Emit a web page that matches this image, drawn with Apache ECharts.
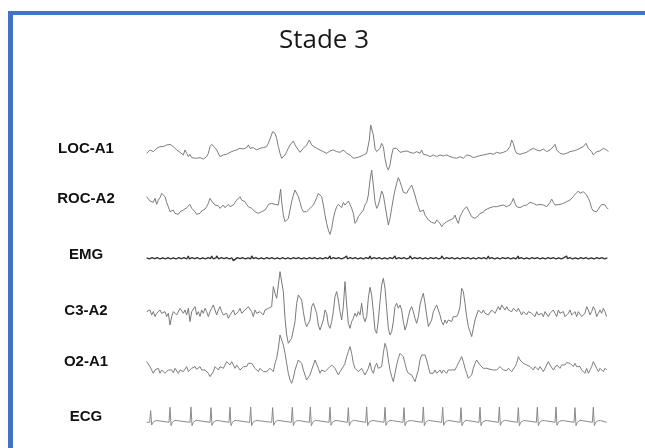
<!DOCTYPE html>
<html>
<head>
<meta charset="utf-8">
<script src="https://cdn.jsdelivr.net/npm/echarts@6/dist/echarts.min.js"></script>
<style>
html,body{margin:0;padding:0;background:#fff;}
#chart{width:645px;height:448px;}
</style>
</head>
<body>
<div id="chart"></div>
<script>
// ---- DATA (time in sample units, amplitude in µV-like units) ----
const titleText = "Stade 3";
const channelNames = ["LOC-A1", "ROC-A2", "EMG", "C3-A2", "O2-A1", "ECG"];

const locA1 = [[50,0],[60,10],[70,5],[80,15],[90,20],[100,20],[110,25],[120,27],[125,30],[130,20],[140,10],[150,3],[160,-5],[165,10],[170,0],[175,-10],[180,-3],[185,-13],[190,-7],[200,-15],[210,-13],[220,-17],[230,-10],[235,0],[240,20],[245,27],[250,25],[255,17],[260,10],[270,-10],[275,-15],[280,-5],[290,-3],[300,3],[310,7],[320,10],[330,15],[340,13],[350,17],[355,25],[360,15],[370,17],[380,10],[390,15],[400,17],[410,20],[415,30],[420,33],[428,65],[435,60],[440,45],[445,20],[450,0],[455,-15],[460,-17],[465,-5],[470,5],[475,15],[480,25],[485,30],[490,37],[495,25],[500,20],[505,10],[510,3],[520,15],[530,25],[538,40],[545,25],[550,20],[560,15],[570,10],[580,5],[590,0],[600,7],[610,10],[615,15],[620,5],[630,3],[640,10],[645,15],[650,0],[660,-5],[670,-15],[675,-20],[680,-13],[690,-10],[700,-5],[710,0],[718,40],[722,85],[730,55],[735,15],[740,5],[745,5],[750,15],[755,30],[760,20],[765,-15],[770,-40],[775,-50],[780,-35],[785,-5],[790,15],[795,20],[800,15],[810,3],[820,5],[830,7],[840,3],[850,0],[860,5],[870,0],[875,10],[880,-3],[890,-5],[900,-10],[910,-5],[920,-10],[930,-5],[940,-8],[950,-5],[960,-10],[970,-13],[980,-15],[990,-10],[1000,-15],[1010,-5],[1015,0],[1020,-7],[1030,-13],[1040,-10],[1050,-7],[1060,-5],[1070,-3],[1080,0],[1090,-3],[1100,3],[1105,5],[1110,0],[1120,3],[1130,7],[1140,20],[1145,40],[1150,30],[1155,10],[1160,0],[1170,-3],[1180,0],[1190,3],[1200,10],[1210,15],[1220,10],[1230,7],[1240,13],[1250,5],[1260,10],[1270,20],[1275,27],[1280,10],[1290,0],[1300,-3],[1310,0],[1320,5],[1330,7],[1340,10],[1350,15],[1360,20],[1368,30],[1375,15],[1380,20],[1385,5],[1390,-5],[1395,-3],[1400,5],[1410,7],[1420,15],[1430,10],[1435,5]];

const rocA2 = [[50,30],[55,25],[60,17],[65,20],[70,13],[75,25],[80,7],[85,20],[90,27],[95,40],[100,45],[105,30],[110,13],[115,0],[120,-15],[125,-17],[130,-10],[135,-20],[140,-15],[145,-23],[150,-15],[155,-13],[160,-10],[165,-7],[170,-3],[175,3],[180,7],[185,-5],[190,-10],[195,-15],[200,-23],[205,-25],[210,-20],[215,-13],[220,-15],[225,-7],[230,0],[235,10],[240,25],[245,17],[250,13],[255,5],[260,10],[265,3],[270,-5],[275,0],[280,5],[285,-3],[290,3],[295,7],[300,0],[305,-5],[310,5],[315,13],[320,20],[325,25],[330,30],[335,20],[340,17],[345,15],[350,7],[355,0],[360,3],[365,-5],[370,-10],[375,-15],[380,-13],[385,-20],[390,-23],[395,-15],[400,-20],[405,-10],[410,-3],[415,7],[420,13],[425,10],[430,13],[435,7],[440,10],[445,5],[452,53],[455,15],[460,-25],[465,-45],[470,-50],[475,-35],[480,-10],[485,15],[490,35],[495,50],[500,45],[505,30],[510,13],[515,-5],[520,-15],[525,-20],[530,-15],[535,-10],[540,-5],[545,0],[550,5],[555,15],[560,27],[565,40],[570,43],[575,30],[580,5],[585,-25],[590,-50],[595,-70],[600,-83],[605,-65],[610,-35],[615,-15],[620,0],[625,7],[630,3],[635,-3],[640,13],[645,5],[650,0],[655,17],[660,7],[665,-5],[670,-20],[675,-50],[680,-43],[685,-30],[690,-23],[695,-17],[700,-10],[705,5],[710,13],[715,35],[720,80],[725,110],[730,65],[735,15],[740,-5],[745,5],[750,25],[755,47],[760,35],[765,5],[770,-25],[775,-55],[780,-35],[785,-5],[790,25],[795,50],[800,70],[805,87],[810,75],[815,60],[820,43],[825,47],[830,40],[835,50],[840,55],[845,65],[850,50],[855,35],[860,15],[865,0],[870,-15],[875,-20],[880,-10],[885,-25],[890,-30],[895,-40],[900,-43],[905,-47],[910,-43],[915,-50],[920,-40],[925,-45],[930,-50],[935,-60],[940,-53],[945,-50],[950,-45],[955,-43],[960,-40],[965,-45],[970,-35],[975,-25],[980,-40],[985,-50],[990,-30],[995,-20],[1000,-10],[1005,-5],[1010,0],[1015,-10],[1020,-20],[1025,-30],[1030,-25],[1035,-35],[1040,-30],[1045,-27],[1050,-20],[1055,-15],[1060,-17],[1065,-10],[1070,-7],[1080,-3],[1090,0],[1100,0],[1110,3],[1120,5],[1130,0],[1140,5],[1145,13],[1150,25],[1155,10],[1160,0],[1170,-3],[1180,3],[1190,5],[1200,13],[1205,17],[1210,10],[1220,5],[1225,3],[1230,7],[1240,5],[1250,0],[1260,13],[1265,23],[1270,13],[1275,5],[1280,3],[1290,7],[1300,10],[1310,15],[1320,20],[1325,25],[1330,30],[1335,37],[1340,43],[1345,47],[1350,40],[1355,35],[1360,45],[1365,47],[1370,35],[1375,25],[1380,13],[1385,-5],[1390,-13],[1395,-10],[1400,-15],[1405,-10],[1410,0],[1415,7],[1420,3],[1425,5],[1430,-3],[1435,-7]];

const emg = [[50,1],[58,-2],[66,2],[74,-1],[82,2],[90,-2],[98,1],[106,-2],[114,2],[120,7],[122,-2],[130,1],[138,-2],[146,2],[154,-1],[162,2],[170,-2],[175,7],[178,-2],[186,2],[194,-1],[202,2],[210,-2],[218,1],[226,-2],[234,2],[242,-1],[245,7],[250,-2],[258,1],[260,7],[266,-2],[274,2],[282,-1],[290,2],[298,-2],[306,1],[310,-7],[314,-2],[322,2],[330,-1],[338,2],[346,-2],[354,1],[362,-2],[365,7],[370,-1],[378,2],[386,-2],[394,1],[402,-2],[410,2],[418,-1],[426,2],[430,8],[434,-2],[442,1],[450,-2],[458,2],[460,7],[466,-2],[474,1],[482,-2],[490,2],[498,-1],[506,2],[514,-2],[522,1],[530,-2],[538,2],[546,-1],[554,2],[562,-2],[570,1],[578,-2],[586,2],[594,-1],[600,7],[602,-2],[610,2],[618,-1],[626,2],[634,-2],[642,1],[650,7],[652,-2],[660,2],[668,-1],[676,2],[684,-2],[692,1],[700,-2],[708,2],[716,-1],[720,7],[724,-2],[732,2],[740,-1],[748,2],[756,-2],[764,1],[772,-2],[780,2],[788,-1],[795,7],[798,-2],[806,2],[814,-1],[822,2],[830,-2],[838,1],[840,7],[846,-2],[854,2],[862,-1],[870,2],[878,-2],[886,1],[894,-2],[902,2],[910,-1],[918,2],[926,-2],[934,1],[935,7],[942,-2],[950,2],[958,-1],[966,2],[974,-2],[982,1],[990,-2],[998,2],[1006,-1],[1014,2],[1020,7],[1022,-2],[1030,1],[1038,-2],[1046,2],[1054,-1],[1062,2],[1070,-2],[1075,7],[1078,-1],[1086,2],[1094,-2],[1102,1],[1110,-2],[1118,2],[1126,-1],[1134,2],[1142,-2],[1150,1],[1158,-2],[1165,7],[1166,-1],[1174,2],[1182,-2],[1190,1],[1198,-2],[1206,2],[1214,-1],[1222,2],[1230,-2],[1238,1],[1246,-2],[1254,2],[1262,-1],[1270,2],[1278,-2],[1286,1],[1294,-2],[1302,2],[1310,7],[1312,-1],[1320,2],[1328,-2],[1336,1],[1344,-2],[1352,2],[1360,-1],[1368,2],[1376,-2],[1384,1],[1392,-2],[1400,2],[1408,-1],[1416,2],[1424,-2],[1432,1]];

const c3A2 = [[50,5],[55,0],[60,10],[65,-5],[70,5],[75,-10],[80,0],[85,5],[90,10],[95,0],[100,-5],[105,5],[110,-10],[115,0],[120,-35],[125,-10],[130,5],[135,10],[140,-5],[145,-10],[150,15],[155,20],[160,0],[165,10],[170,-5],[175,15],[180,-25],[185,5],[190,10],[195,20],[200,-5],[205,5],[210,-10],[215,10],[220,0],[225,15],[230,5],[235,-10],[240,5],[245,15],[250,25],[255,30],[260,-5],[265,10],[270,20],[275,5],[280,-5],[285,-10],[290,0],[295,-15],[300,-5],[305,0],[310,10],[315,-5],[320,-10],[325,5],[330,15],[335,0],[340,-5],[345,10],[350,15],[355,20],[360,25],[365,5],[370,-10],[375,10],[380,0],[385,-5],[390,5],[395,0],[400,-5],[405,10],[410,5],[415,15],[420,10],[425,20],[430,80],[435,60],[440,45],[445,85],[450,125],[455,120],[460,65],[465,-15],[470,-65],[475,-90],[480,-95],[485,-75],[490,-80],[495,-25],[500,30],[505,55],[510,60],[515,40],[520,5],[525,-25],[530,-40],[535,-35],[540,-20],[545,20],[550,30],[555,35],[560,0],[565,-35],[570,-50],[575,-35],[580,-20],[585,10],[590,0],[595,-35],[600,-45],[605,-25],[610,5],[615,50],[620,65],[625,40],[630,5],[635,-20],[640,20],[645,95],[650,25],[655,-30],[660,-45],[665,-25],[670,-15],[675,0],[680,-10],[685,5],[690,-5],[695,30],[700,-10],[705,-25],[710,-10],[715,45],[720,78],[725,55],[730,5],[735,-50],[740,-60],[745,-20],[750,35],[755,85],[760,105],[765,75],[770,15],[775,-45],[780,-65],[785,-55],[790,-25],[795,20],[800,30],[805,15],[810,25],[815,10],[820,-25],[825,-50],[830,-35],[835,-10],[840,10],[845,20],[850,5],[855,-15],[860,-30],[865,-10],[870,25],[875,45],[880,60],[885,30],[890,-5],[895,-40],[900,-45],[905,-20],[910,5],[915,10],[920,25],[925,20],[930,-5],[935,-25],[940,-35],[945,-20],[950,-30],[955,-20],[960,-15],[965,-25],[970,-10],[975,-5],[980,-10],[985,0],[990,20],[995,75],[1000,65],[1005,30],[1010,-10],[1015,-40],[1020,-55],[1025,-70],[1030,-45],[1035,-20],[1040,-5],[1045,10],[1050,5],[1055,0],[1060,10],[1065,0],[1070,5],[1075,-5],[1080,0],[1085,10],[1090,5],[1095,0],[1100,10],[1105,20],[1110,10],[1115,25],[1120,20],[1125,10],[1130,20],[1135,10],[1140,15],[1145,5],[1150,15],[1155,10],[1160,5],[1165,15],[1170,10],[1175,-5],[1180,5],[1185,0],[1190,-5],[1195,5],[1200,0],[1205,0],[1210,-5],[1215,-10],[1220,5],[1225,-5],[1230,-10],[1235,0],[1240,-10],[1245,5],[1250,0],[1255,-10],[1260,0],[1265,5],[1270,10],[1275,0],[1280,-10],[1285,10],[1290,0],[1295,-5],[1300,5],[1305,-10],[1310,-15],[1315,0],[1320,10],[1325,-5],[1330,0],[1335,5],[1340,-10],[1345,5],[1350,10],[1355,-10],[1360,-15],[1365,0],[1370,20],[1375,10],[1380,-5],[1385,5],[1390,20],[1395,10],[1400,-10],[1405,0],[1410,10],[1415,0],[1420,15],[1425,5],[1430,-10]];

const o2A1 = [[50,23],[55,18],[60,8],[65,-2],[70,-12],[75,-2],[80,-7],[85,3],[90,-12],[95,-2],[100,3],[105,-12],[110,-17],[115,-2],[120,3],[125,-2],[130,-10],[135,3],[140,-2],[145,-12],[150,-2],[155,3],[160,-7],[165,-2],[170,8],[175,-7],[180,-2],[185,3],[190,-2],[195,8],[200,0],[205,-2],[210,8],[215,-2],[220,3],[225,-2],[230,-7],[235,-12],[240,-22],[245,-17],[250,-7],[255,8],[260,3],[265,-2],[270,8],[275,13],[280,3],[285,8],[290,23],[295,18],[300,13],[305,23],[310,18],[315,3],[320,13],[325,8],[330,-2],[335,3],[340,8],[345,13],[350,8],[355,18],[360,23],[365,18],[370,13],[375,3],[380,-2],[385,-7],[390,3],[395,-2],[400,-7],[405,-2],[410,-7],[415,-2],[420,3],[425,8],[430,-7],[435,18],[440,33],[445,63],[450,103],[455,98],[460,73],[465,48],[470,18],[475,-12],[480,-32],[485,-42],[490,-27],[495,-2],[500,13],[505,28],[510,33],[515,18],[520,-2],[525,-17],[530,-32],[535,-27],[540,-17],[545,-2],[550,13],[555,28],[560,23],[565,3],[570,-12],[575,-2],[580,3],[585,-7],[590,-2],[595,3],[600,-2],[605,13],[610,18],[615,3],[620,-2],[625,-17],[630,-7],[635,-2],[640,8],[645,18],[650,38],[655,53],[660,68],[665,48],[670,18],[675,3],[680,-2],[685,-7],[690,-12],[695,3],[700,-7],[705,-17],[710,-12],[715,3],[720,20],[725,-2],[730,-12],[735,8],[740,18],[745,3],[750,-2],[755,8],[760,48],[765,78],[770,63],[775,28],[780,-2],[785,-22],[790,-37],[795,-12],[800,13],[805,33],[810,48],[815,53],[820,38],[825,18],[830,-2],[835,-12],[840,-7],[845,-17],[850,-27],[855,-37],[860,-32],[865,-2],[870,28],[875,43],[880,48],[885,43],[890,28],[895,8],[900,-12],[905,-17],[910,-12],[915,-2],[920,-12],[925,-7],[930,-2],[935,-12],[940,-2],[945,-7],[950,-12],[955,-2],[960,3],[965,-2],[970,3],[975,-2],[980,8],[985,18],[990,23],[995,38],[1000,23],[1005,3],[1010,-12],[1015,-27],[1020,-32],[1025,-17],[1030,3],[1035,18],[1040,28],[1045,23],[1050,13],[1055,8],[1060,3],[1065,-2],[1070,3],[1075,-2],[1080,0],[1085,3],[1090,-2],[1095,-7],[1100,-2],[1105,3],[1110,8],[1115,3],[1120,-2],[1125,0],[1130,-4],[1135,3],[1140,-2],[1145,-7],[1150,-2],[1155,8],[1160,18],[1165,38],[1170,28],[1175,23],[1180,18],[1185,20],[1190,13],[1195,16],[1200,8],[1205,3],[1210,-2],[1215,8],[1220,3],[1225,-2],[1230,8],[1235,3],[1240,-7],[1245,3],[1250,13],[1255,23],[1260,13],[1265,8],[1270,-2],[1275,3],[1280,13],[1285,8],[1290,3],[1295,13],[1300,18],[1305,13],[1310,20],[1315,23],[1320,18],[1325,13],[1330,8],[1335,18],[1340,8],[1345,3],[1350,8],[1355,-2],[1360,-7],[1365,-12],[1370,3],[1375,-12],[1380,-7],[1385,8],[1390,23],[1395,18],[1400,3],[1405,-7],[1410,3],[1415,-2],[1420,-7],[1425,3],[1430,-2]];

const ecg = [[50,0],
[59,0],[62,35],[65,-8],[69,0],[77,5],[84,5],[90,0],
[117,0],[120,45],[123,-10],[127,0],[135,6],[142,5],[148,0],
[180,0],[183,46],[186,-10],[190,0],[198,6],[205,5],[211,0],
[240,0],[243,44],[246,-9],[250,0],[258,5],[265,5],[271,0],
[297,0],[300,45],[303,-10],[307,0],[315,6],[322,5],[328,0],
[359,0],[362,46],[365,-10],[369,0],[377,5],[384,5],[390,0],
[425,0],[428,44],[431,-9],[435,0],[443,6],[450,5],[456,0],
[484,0],[487,45],[490,-10],[494,0],[502,5],[509,5],[515,0],
[538,0],[541,46],[544,-10],[548,0],[556,6],[563,5],[569,0],
[597,0],[600,45],[603,-9],[607,0],[615,5],[622,5],[628,0],
[652,0],[655,44],[658,-10],[662,0],[670,6],[677,5],[683,0],
[707,0],[710,46],[713,-10],[717,0],[725,5],[732,5],[738,0],
[762,0],[765,45],[768,-9],[772,0],[780,6],[787,5],[793,0],
[819,0],[822,44],[825,-10],[829,0],[837,5],[844,5],[850,0],
[877,0],[880,46],[883,-10],[887,0],[895,6],[902,5],[908,0],
[935,0],[938,45],[941,-9],[945,0],[953,5],[960,5],[966,0],
[990,0],[993,44],[996,-10],[1000,0],[1008,6],[1015,5],[1021,0],
[1047,0],[1050,45],[1053,-10],[1057,0],[1065,5],[1072,5],[1078,0],
[1105,0],[1108,46],[1111,-9],[1115,0],[1123,6],[1130,5],[1136,0],
[1162,0],[1165,44],[1168,-10],[1172,0],[1180,5],[1187,5],[1193,0],
[1219,0],[1222,45],[1225,-10],[1229,0],[1237,6],[1244,5],[1250,0],
[1275,0],[1278,46],[1281,-9],[1285,0],[1293,5],[1300,5],[1306,0],
[1332,0],[1335,44],[1338,-10],[1342,0],[1350,6],[1357,5],[1363,0],
[1387,0],[1390,45],[1393,-10],[1397,0],[1405,5],[1412,5],[1418,0],
[1430,0]];

const signals = [locA1, rocA2, emg, c3A2, o2A1, ecg];

// ---- LAYOUT (pixels) ----
const baselineY = [153.3, 206.7, 258.3, 313.3, 369.3, 422.3];
const halfH = [40, 40, 15, 45, 40, 20];
const labelY = [149, 199, 255, 311, 362, 417];
const lineColors = ["#7d7d7d", "#7d7d7d", "#2e2e2e", "#7a7a7a", "#7d7d7d", "#8a8a8a"];
const lineWidths = [1, 1, 1.3, 1, 1, 1];

const chart = echarts.init(document.getElementById('chart'), null, {renderer: 'canvas'});

const grids = [], xAxes = [], yAxes = [], series = [];
signals.forEach((d, i) => {
  grids.push({left: 130, width: 515, top: baselineY[i] - halfH[i], height: 2 * halfH[i]});
  xAxes.push({gridIndex: i, type: 'value', min: 0, max: 1545, show: false});
  yAxes.push({gridIndex: i, type: 'value', min: -3 * halfH[i], max: 3 * halfH[i], show: false});
  series.push({
    type: 'line', name: channelNames[i], xAxisIndex: i, yAxisIndex: i, data: d,
    showSymbol: false, symbol: 'none', silent: true,
    lineStyle: {width: lineWidths[i], color: lineColors[i]}
  });
});

const graphics = [
  {type: 'rect', shape: {x: 8, y: 11, width: 637, height: 4}, style: {fill: '#4472C4'}},
  {type: 'rect', shape: {x: 8, y: 11, width: 5, height: 437}, style: {fill: '#4472C4'}},
  {type: 'text', x: 324, y: 41, style: {text: titleText, fontFamily: 'Open Sans', fontSize: 26, fill: '#1a1a1a', textAlign: 'center', textVerticalAlign: 'middle'}}
];
channelNames.forEach((n, i) => {
  graphics.push({type: 'text', x: 86, y: labelY[i], style: {text: n, fontFamily: 'Liberation Sans, Arial', fontWeight: 'bold', fontSize: 15, fill: '#111', textAlign: 'center', textVerticalAlign: 'middle'}});
});

chart.setOption({
  animation: false,
  backgroundColor: '#ffffff',
  grid: grids, xAxis: xAxes, yAxis: yAxes, series: series,
  graphic: graphics
});
</script>
</body>
</html>
